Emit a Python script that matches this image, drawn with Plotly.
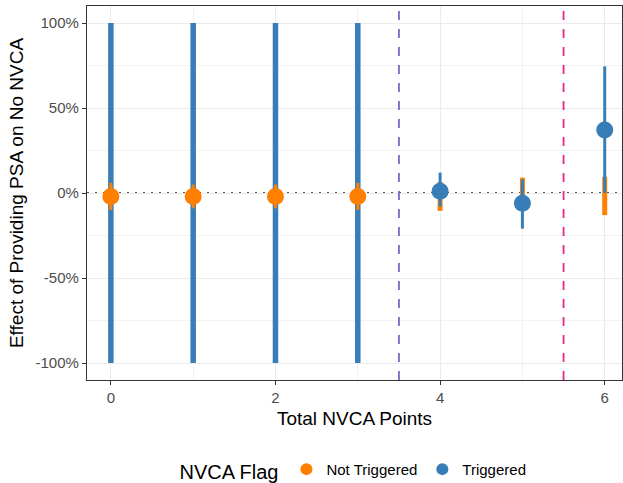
import plotly.graph_objects as go

points = [0, 1, 2, 3, 4, 5, 6]
# Not Triggered (orange)
nt_est = [-0.02, -0.02, -0.02, -0.02, None, None, None]
nt_lo = [-0.10, -0.09, -0.09, -0.10, -0.105, -0.10, -0.13]
nt_hi = [0.06, 0.05, 0.05, 0.06, 0.065, 0.09, 0.095]
# Triggered (blue)
tr_est = [-0.02, -0.02, -0.02, -0.02, 0.01, -0.06, 0.37]
tr_lo = [-1.0, -1.0, -1.0, -1.0, -0.08, -0.21, 0.0]
tr_hi = [1.0, 1.0, 1.0, 1.0, 0.12, 0.08, 0.745]

ORANGE = "#FF7F00"
BLUE = "#377EB8"

def seg(idx, lo, hi):
    xs, ys = [], []
    for i in idx:
        xs += [points[i], points[i], None]
        ys += [lo[i], hi[i], None]
    return xs, ys

fig = go.Figure()
# thick blue ranges 0-3
x, y = seg(range(0, 4), tr_lo, tr_hi)
fig.add_trace(go.Scatter(x=x, y=y, mode="lines", line=dict(color=BLUE, width=5.5),
                         showlegend=False, hoverinfo="skip"))
# orange ranges
x, y = seg(range(0, 4), nt_lo, nt_hi)
fig.add_trace(go.Scatter(x=x, y=y, mode="lines", line=dict(color=ORANGE, width=3),
                         showlegend=False, hoverinfo="skip"))
x, y = seg(range(4, 7), nt_lo, nt_hi)
fig.add_trace(go.Scatter(x=x, y=y, mode="lines", line=dict(color=ORANGE, width=5),
                         showlegend=False, hoverinfo="skip"))
# orange points
fig.add_trace(go.Scatter(x=points, y=nt_est, mode="markers", name="Not Triggered",
                         marker=dict(color=ORANGE, size=17)))
# blue thin ranges 4-6
x, y = seg(range(4, 7), tr_lo, tr_hi)
fig.add_trace(go.Scatter(x=x, y=y, mode="lines", line=dict(color=BLUE, width=3),
                         showlegend=False, hoverinfo="skip"))
fig.add_trace(go.Scatter(x=points[4:], y=tr_est[4:], mode="markers", name="Triggered",
                         marker=dict(color=BLUE, size=17)))

fig.add_hline(y=0, line=dict(color="#555555", width=2, dash="2px,6px"), layer="below")
fig.add_vline(x=3.5, line=dict(color="#7B68C8", width=1.8, dash="dash"))
fig.add_vline(x=5.5, line=dict(color="#E7298A", width=1.8, dash="dash"))

fig.update_layout(
    width=623, height=483,
    margin=dict(l=87, r=1, t=6, b=103, autoexpand=False),
    paper_bgcolor="white", plot_bgcolor="white",
    font=dict(family="Liberation Sans, Arial, sans-serif", color="black"),
    legend=dict(orientation="h", x=0.5, xanchor="center", y=-0.243, yanchor="middle",
                title=dict(text="NVCA Flag", font=dict(size=20)),
                font=dict(size=15), itemsizing="constant"),
    showlegend=True,
)
fig.update_xaxes(range=[-0.29, 6.21], tickvals=[0, 2, 4, 6], ticktext=["0", "2", "4", "6"],
                 showgrid=True, gridcolor="#EBEBEB", gridwidth=1.3,
                 minor=dict(tickvals=[1, 3, 5], showgrid=True, gridcolor="#F2F2F2", gridwidth=0.8),
                 ticks="outside", ticklen=4, tickcolor="#333333",
                 tickfont=dict(size=15, color="#4D4D4D"),
                 showline=True, linecolor="#333333", linewidth=1.2, mirror=True, zeroline=False,
                 title=dict(text="Total NVCA Points", font=dict(size=19), standoff=6))
fig.update_yaxes(range=[-1.1, 1.1], tickvals=[-1, -0.5, 0, 0.5, 1],
                 ticktext=["-100%", "-50%", "0%", "50%", "100%"],
                 showgrid=True, gridcolor="#EBEBEB", gridwidth=1.3,
                 minor=dict(tickvals=[-0.75, -0.25, 0.25, 0.75], showgrid=True, gridcolor="#F2F2F2", gridwidth=0.8),
                 ticks="outside", ticklen=4, tickcolor="#333333",
                 tickfont=dict(size=15, color="#4D4D4D"),
                 showline=True, linecolor="#333333", linewidth=1.2, mirror=True, zeroline=False,
                 title=dict(text="Effect of Providing PSA on No NVCA", font=dict(size=19), standoff=6))

fig.write_html("out.html")
